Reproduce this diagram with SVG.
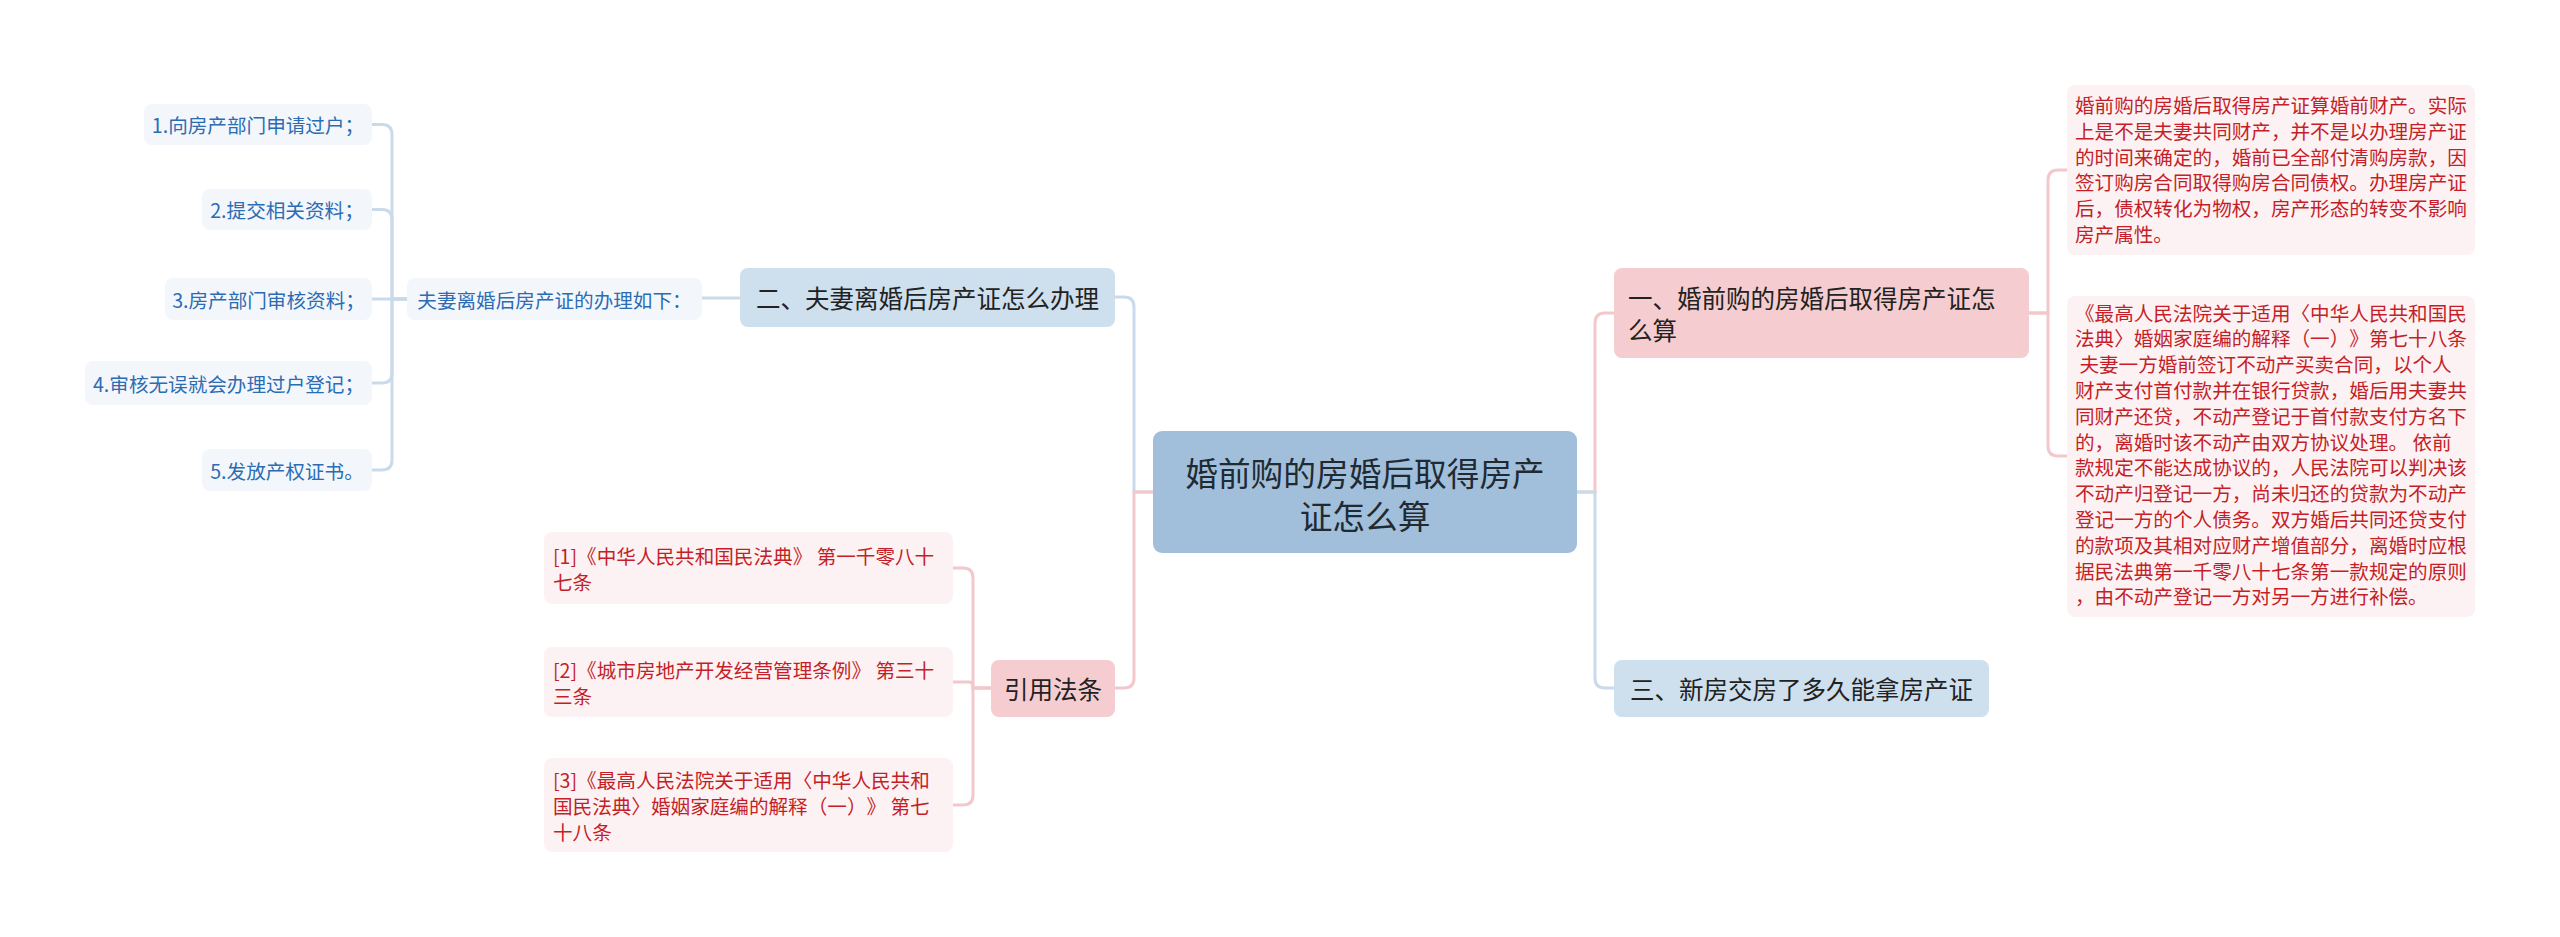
<svg xmlns="http://www.w3.org/2000/svg" width="2560" height="937" viewBox="0 0 2560 937">
<style>
text{font-family:"Noto Sans CJK SC","Noto Sans",sans-serif;dominant-baseline:central;text-spacing-trim:space-all}
.root{fill:#a1bfda}
.pink{fill:#f5cdd0}
.blue{fill:#cedfee}
.lpink{fill:#fdf2f3}
.lblue{fill:#f3f7fc}
.t0{font-size:32.7px;fill:#1f2a33;text-anchor:middle}
.t1{font-size:24.5px;fill:#222}
.tr{font-size:19.6px;fill:#c41f28}
.tb{font-size:19.6px;fill:#2b6cb3;text-anchor:middle}
.mid{text-anchor:middle}
.cp{fill:none;stroke:#f2c8cc;stroke-width:3}
.cb{fill:none;stroke:#c9daeb;stroke-width:3}
</style>
<rect width="2560" height="937" fill="#ffffff"/>
<g id="connectors">
<path class="cp" d="M1577 492 H1595 V323 Q1595 313 1605 313 H1614"/>
<path class="cb" d="M1577 492 H1595 V678 Q1595 688 1605 688 H1614"/>
<path class="cp" d="M2029 313 H2048 V180 Q2048 170 2058 170 H2067"/>
<path class="cp" d="M2029 313 H2048 V446 Q2048 456 2058 456 H2067"/>
<path class="cb" d="M1153 492 H1134 V307 Q1134 297 1124 297 H1115"/>
<path class="cp" d="M1153 492 H1134 V678 Q1134 688 1124 688 H1115"/>
<path class="cb" d="M740 298 H702"/>
<path class="cb" d="M407 299 H392 V134.5 Q392 124.5 382 124.5 H372"/>
<path class="cb" d="M407 299 H392 V219.5 Q392 209.5 382 209.5 H372"/>
<path class="cb" d="M407 299 H372"/>
<path class="cb" d="M407 299 H392 V373 Q392 383 382 383 H372"/>
<path class="cb" d="M407 299 H392 V460 Q392 470 382 470 H372"/>
<path class="cp" d="M991 688 H973 V578 Q973 568 963 568 H953"/>
<path class="cp" d="M991 688 H973 V686 Q973 682 969 682 H953"/>
<path class="cp" d="M991 688 H973 V795 Q973 805 963 805 H953"/>
</g>
<g id="root">
<rect class="root" x="1153" y="431" width="424" height="122" rx="9"/>
<text class="t0" x="1365" y="471">婚前购的房婚后取得房产</text>
<text class="t0" x="1365" y="514">证怎么算</text>
</g>
<g id="n1">
<rect class="pink" x="1614" y="268" width="415" height="90" rx="8"/>
<text class="t1" x="1628" y="297">一、婚前购的房婚后取得房产证怎</text>
<text class="t1" x="1628" y="329">么算</text>
</g>
<g id="n1a">
<rect class="lpink" x="2067" y="85" width="408" height="170" rx="8"/>
<text class="tr" x="2075" y="104.5">婚前购的房婚后取得房产证算婚前财产。实际</text>
<text class="tr" x="2075" y="130.3">上是不是夫妻共同财产，并不是以办理房产证</text>
<text class="tr" x="2075" y="156.1">的时间来确定的，婚前已全部付清购房款，因</text>
<text class="tr" x="2075" y="181.9">签订购房合同取得购房合同债权。办理房产证</text>
<text class="tr" x="2075" y="207.7">后，债权转化为物权，房产形态的转变不影响</text>
<text class="tr" x="2075" y="233.5">房产属性。</text>
</g>
<g id="n1b">
<rect class="lpink" x="2067" y="296" width="408" height="321" rx="8"/>
<text class="tr" x="2075" y="312">《最高人民法院关于适用〈中华人民共和国民</text>
<text class="tr" x="2075" y="337.8">法典〉婚姻家庭编的解释（一）》第七十八条</text>
<text class="tr" x="2075" y="363.6" xml:space="preserve"> 夫妻一方婚前签订不动产买卖合同，以个人</text>
<text class="tr" x="2075" y="389.4">财产支付首付款并在银行贷款，婚后用夫妻共</text>
<text class="tr" x="2075" y="415.2">同财产还贷，不动产登记于首付款支付方名下</text>
<text class="tr" x="2075" y="441">的，离婚时该不动产由双方协议处理。 依前</text>
<text class="tr" x="2075" y="466.8">款规定不能达成协议的，人民法院可以判决该</text>
<text class="tr" x="2075" y="492.6">不动产归登记一方，尚未归还的贷款为不动产</text>
<text class="tr" x="2075" y="518.4">登记一方的个人债务。双方婚后共同还贷支付</text>
<text class="tr" x="2075" y="544.2">的款项及其相对应财产增值部分，离婚时应根</text>
<text class="tr" x="2075" y="570">据民法典第一千零八十七条第一款规定的原则</text>
<text class="tr" x="2075" y="595.8">，由不动产登记一方对另一方进行补偿。</text>
</g>
<g id="n3">
<rect class="blue" x="1614" y="660" width="375" height="57" rx="8"/>
<text class="t1 mid" x="1801.5" y="688.5">三、新房交房了多久能拿房产证</text>
</g>
<g id="n2">
<rect class="blue" x="740" y="268" width="375" height="59" rx="8"/>
<text class="t1 mid" x="927.5" y="297.5">二、夫妻离婚后房产证怎么办理</text>
</g>
<g id="n2a">
<rect class="lblue" x="407" y="278" width="295" height="42" rx="8"/>
<text class="tb" x="554.5" y="299">夫妻离婚后房产证的办理如下：</text>
</g>
<g id="i1">
<rect class="lblue" x="144" y="104" width="228" height="41" rx="8"/>
<text class="tb" x="258" y="124.5">1.向房产部门申请过户；</text>
</g>
<g id="i2">
<rect class="lblue" x="202" y="189" width="170" height="41" rx="8"/>
<text class="tb" x="287" y="209.5">2.提交相关资料；</text>
</g>
<g id="i3">
<rect class="lblue" x="165" y="278" width="207" height="42" rx="8"/>
<text class="tb" x="268.5" y="299">3.房产部门审核资料；</text>
</g>
<g id="i4">
<rect class="lblue" x="85" y="361" width="287" height="44" rx="8"/>
<text class="tb" x="228.5" y="383">4.审核无误就会办理过户登记；</text>
</g>
<g id="i5">
<rect class="lblue" x="202" y="449" width="170" height="42" rx="8"/>
<text class="tb" x="287" y="470">5.发放产权证书。</text>
</g>
<g id="n4">
<rect class="pink" x="991" y="660" width="124" height="57" rx="8"/>
<text class="t1 mid" x="1053" y="688.5">引用法条</text>
</g>
<g id="c1">
<rect class="lpink" x="544" y="532" width="409" height="72" rx="8"/>
<text class="tr" x="553" y="555">[1]《中华人民共和国民法典》 第一千零八十</text>
<text class="tr" x="553" y="581">七条</text>
</g>
<g id="c2">
<rect class="lpink" x="544" y="647" width="409" height="70" rx="8"/>
<text class="tr" x="553" y="669">[2]《城市房地产开发经营管理条例》 第三十</text>
<text class="tr" x="553" y="695">三条</text>
</g>
<g id="c3">
<rect class="lpink" x="544" y="758" width="409" height="94" rx="8"/>
<text class="tr" x="553" y="779">[3]《最高人民法院关于适用〈中华人民共和</text>
<text class="tr" x="553" y="805">国民法典〉婚姻家庭编的解释（一）》 第七</text>
<text class="tr" x="553" y="831">十八条</text>
</g>
</svg>
